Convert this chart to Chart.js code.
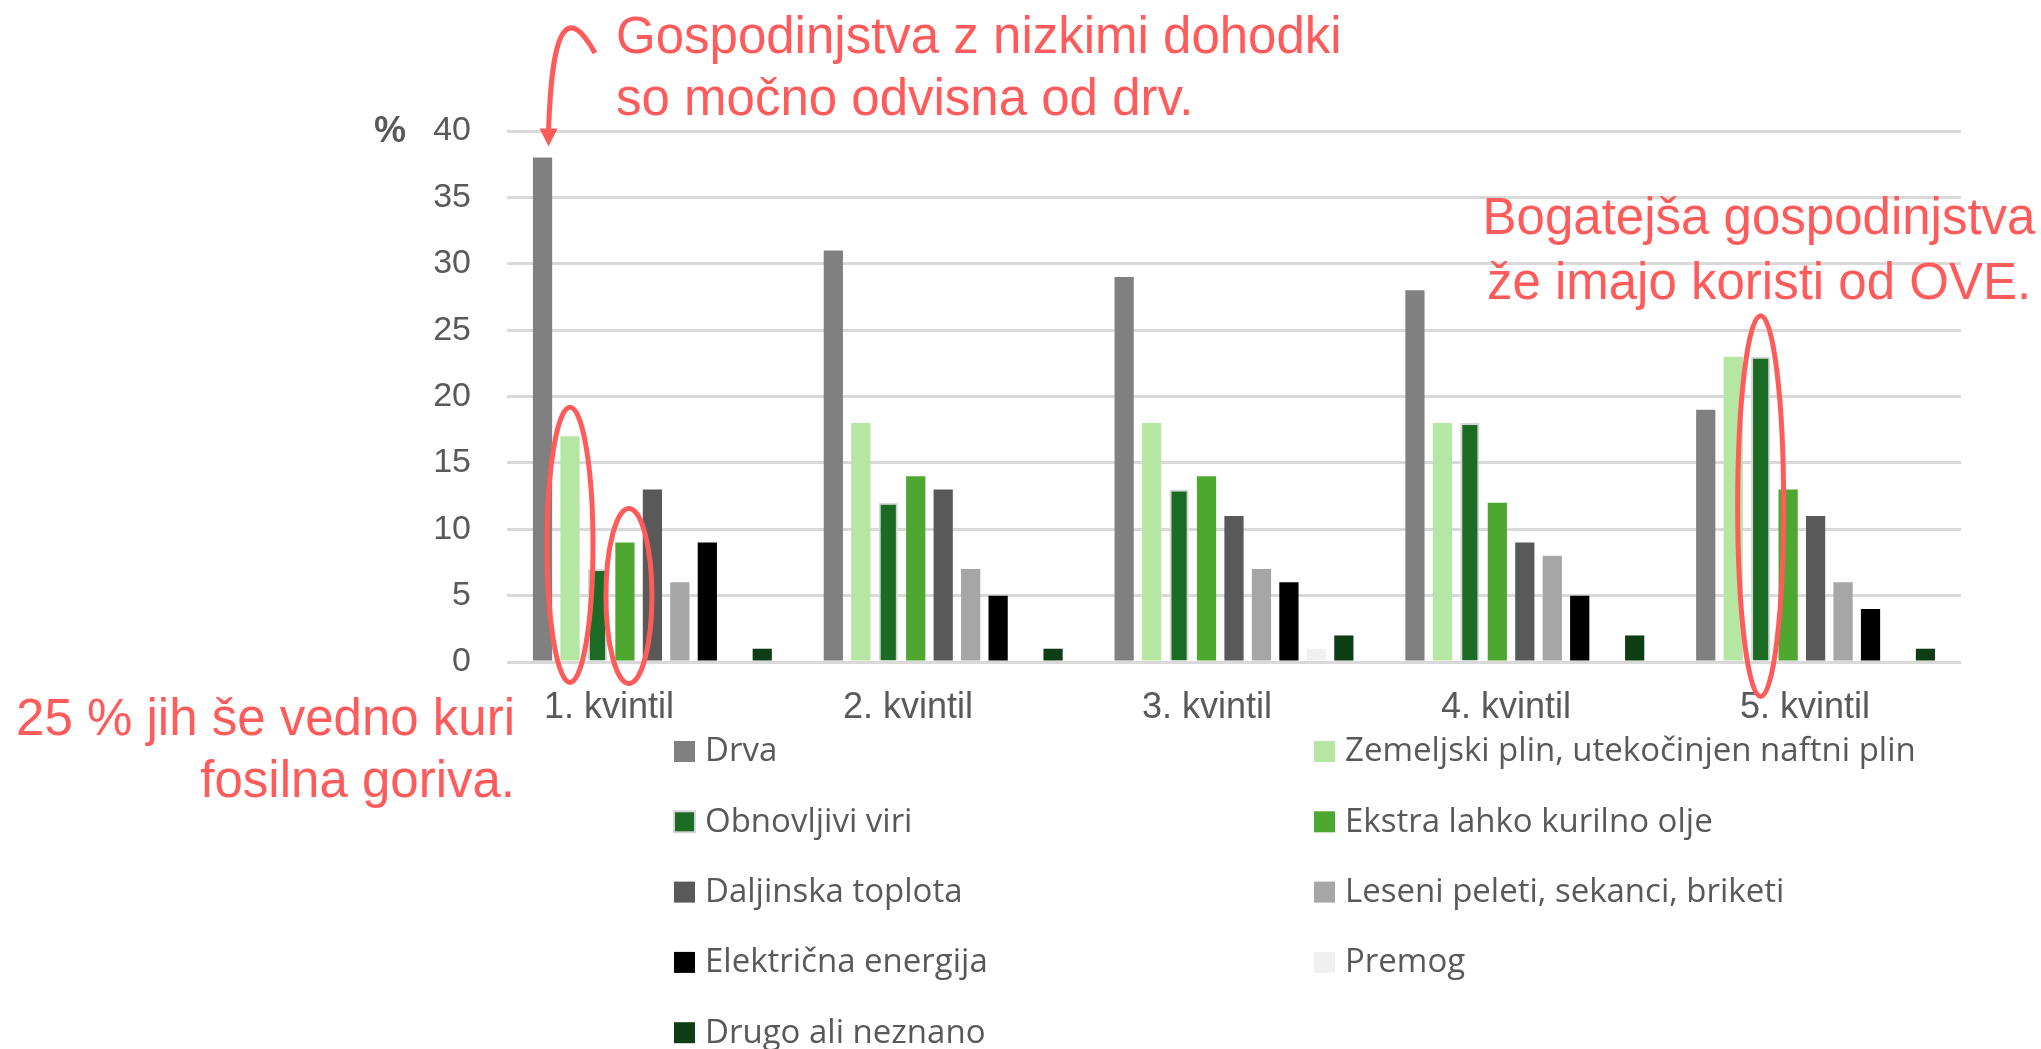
<!DOCTYPE html>
<html>
<head>
<meta charset="utf-8">
<script src="https://cdn.jsdelivr.net/npm/chart.js@4.4.1/dist/chart.umd.min.js"></script>
<style>
  body { margin: 0; background: #fff; }
</style>
</head>
<body>
<canvas id="heatChart" width="2041" height="1049"></canvas>
<script>
// income quintiles and share of households (%) by main heating source
const quintiles = ['1. kvintil', '2. kvintil', '3. kvintil', '4. kvintil', '5. kvintil'];
const drva = [38, 31, 29, 28, 19];
const plin = [17, 18, 18, 18, 23];
const obnovljivi = [7, 12, 13, 18, 23];
const kurilnoOlje = [9, 14, 14, 12, 13];
const daljinska = [13, 13, 11, 9, 11];
const peleti = [6, 7, 7, 8, 6];
const elektrika = [9, 5, 6, 5, 4];
const premog = [0, 0, 1, 0, 0];
const drugo = [1, 1, 2, 2, 1];
const yTicks = [0, 5, 10, 15, 20, 25, 30, 35, 40];

const red = '#FF5B5B';
const grey = '#595959';
const font = '"Liberation Sans", Arial, sans-serif';

const annotations = {
    id: 'annotations',
    afterDraw(chart) {
        const { ctx, chartArea, scales: { y } } = chart;
        ctx.save();

        // unit label next to the top tick
        ctx.fillStyle = grey;
        ctx.font = 'bold 36px ' + font;
        ctx.textAlign = 'left';
        ctx.textBaseline = 'middle';
        ctx.fillText('%', 374, y.getPixelForValue(40) + 1);

        // category labels (sit a bit left of the groups in the original)
        ctx.font = '36px ' + font;
        ctx.textAlign = 'center';
        ctx.textBaseline = 'alphabetic';
        quintiles.forEach((q, i) => ctx.fillText(q, chartArea.left + 102 + i * 299, 718));

        // two column legend
        ctx.font = '33px "Open Sans", ' + font;
        ctx.textAlign = 'left';
        ctx.textBaseline = 'middle';
        const cols = [674, 1314];
        chart.data.datasets.forEach((ds, k) => {
            const x = cols[k % 2];
            const yc = 752 + Math.floor(k / 2) * 70.3;
            ctx.fillStyle = ds.backgroundColor;
            ctx.fillRect(x, yc - 11, 21, 21);
            if (ds.borderWidth) {
                ctx.strokeStyle = ds.borderColor;
                ctx.lineWidth = 2;
                ctx.strokeRect(x, yc - 11, 21, 21);
            }
            ctx.fillStyle = grey;
            ctx.fillText(ds.label, x + 31, yc);
        });

        // red rings round the highlighted bars
        ctx.strokeStyle = red;
        ctx.lineWidth = 5;
        const ring = (ds, i, dx, padTop, padBottom) => {
            const bar = chart.getDatasetMeta(ds).data[i];
            const top = bar.y - padTop;
            const bottom = bar.base + padBottom;
            ctx.beginPath();
            ctx.ellipse(bar.x + dx, (top + bottom) / 2, 23, (bottom - top) / 2, 0, 0, Math.PI * 2);
            ctx.stroke();
        };
        ring(1, 0, 0, 29, 22);
        ring(3, 0, 4, 34, 23);
        ring(2, 4, 0, 41, 36);

        // arrow pointing at the first wood bar
        const wood = chart.getDatasetMeta(0).data[0];
        const tipX = wood.x + 6;
        const tipY = wood.y - 11;
        ctx.beginPath();
        ctx.moveTo(595, 53);
        ctx.bezierCurveTo(582, 30, 572, 22, 564, 32);
        ctx.bezierCurveTo(553, 46, 550, 90, tipX, tipY - 16);
        ctx.stroke();
        ctx.fillStyle = red;
        ctx.beginPath();
        ctx.moveTo(tipX - 9, tipY - 18);
        ctx.lineTo(tipX + 9, tipY - 18);
        ctx.lineTo(tipX, tipY);
        ctx.closePath();
        ctx.fill();

        // callout texts
        ctx.font = '51px ' + font;
        ctx.textBaseline = 'alphabetic';
        ctx.textAlign = 'left';
        ctx.fillText('Gospodinjstva z nizkimi dohodki', 616, 53);
        ctx.fillText('so močno odvisna od drv.', 616, 115);
        ctx.textAlign = 'right';
        ctx.fillText('25 % jih še vedno kuri', 515, 735);
        ctx.fillText('fosilna goriva.', 515, 797);
        ctx.textAlign = 'center';
        ctx.fillText('Bogatejša gospodinjstva', 1759, 234);
        ctx.fillText('že imajo koristi od OVE.', 1759, 299);

        ctx.restore();
    }
};

const ctx = document.getElementById('heatChart').getContext('2d');

const heatChart = new Chart(ctx, {
    type: 'bar',
    data: {
        labels: quintiles,
        datasets: [
            { label: 'Drva', data: drva, backgroundColor: '#808080' },
            { label: 'Zemeljski plin, utekočinjen naftni plin', data: plin, backgroundColor: '#B5E6A2' },
            { label: 'Obnovljivi viri', data: obnovljivi, backgroundColor: '#1B6B24', borderColor: '#D6D6D6', borderWidth: 2 },
            { label: 'Ekstra lahko kurilno olje', data: kurilnoOlje, backgroundColor: '#4EA72E' },
            { label: 'Daljinska toplota', data: daljinska, backgroundColor: '#595959' },
            { label: 'Leseni peleti, sekanci, briketi', data: peleti, backgroundColor: '#A6A6A6' },
            { label: 'Električna energija', data: elektrika, backgroundColor: '#000000' },
            { label: 'Premog', data: premog, backgroundColor: '#F0F0F0' },
            { label: 'Drugo ali neznano', data: drugo, backgroundColor: '#0F3D16' }
        ]
    },
    options: {
        responsive: false,
        animation: false,
        categoryPercentage: 0.85,
        barPercentage: 0.7,
        layout: {
            padding: { top: 131, right: 80, bottom: 387, left: 0 }
        },
        plugins: {
            legend: { display: false },
            tooltip: { enabled: false }
        },
        scales: {
            x: {
                ticks: { display: false },
                grid: { display: false, drawTicks: false },
                border: { display: false },
                afterFit: s => { s.height = 0; }
            },
            y: {
                min: 0,
                max: 40,
                afterBuildTicks: s => { s.ticks = yTicks.map(v => ({ value: v })); },
                afterFit: s => { s.width = 507; },
                ticks: {
                    padding: 36,
                    color: grey,
                    font: { family: 'Liberation Sans', size: 34 }
                },
                grid: { color: '#D9D9D9', lineWidth: 3, drawTicks: false },
                border: { display: false }
            }
        }
    },
    plugins: [annotations]
});
</script>
</body>
</html>
